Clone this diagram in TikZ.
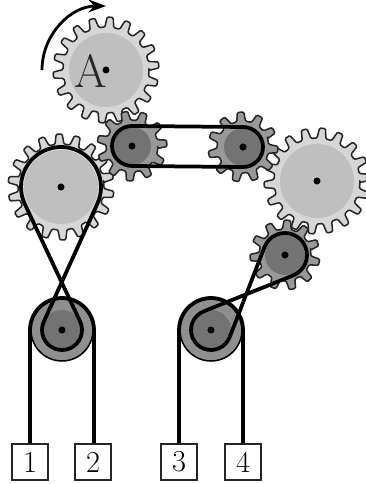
\documentclass[tikz,border=0pt]{standalone}
\usepackage{xcolor}
\usetikzlibrary{arrows.meta,calc}
\definecolor{gearLight}{gray}{0.84}
\definecolor{gearLightCore}{gray}{0.75}
\definecolor{gearDark}{gray}{0.60}
\definecolor{gearDarkCore}{gray}{0.45}
\tikzset{
  toothed/.style={draw=black!85, line width=1.3pt, rounded corners=1pt},
  belt/.style={draw=black, line width=3.2pt, line join=round},
  pivot/.style={circle, fill=black, inner sep=0pt, minimum size=6pt},
  weightbox/.style={draw=black!85, fill=white, line width=1.2pt, minimum size=31pt, inner sep=0pt, font=\fontsize{26}{26}\selectfont},
}
% name, teeth, tip radius, root radius, phase, rim colour, core radius, core colour
\newcommand{\gearwheel}[8]{
  \begin{scope}[shift={(#1)}]
    \pgfmathsetmacro{\pitch}{360/#2}
    \draw[toothed, fill=#6] (#5-0.3*\pitch:#4)
      \foreach \k [evaluate=\k as \ang using #5+\k*\pitch] in {0,...,\numexpr#2-1\relax} {
        -- (\ang-0.3*\pitch:#4) -- (\ang-0.16*\pitch:#3) -- (\ang+0.16*\pitch:#3) -- (\ang+0.3*\pitch:#4)
      } -- cycle;
    \fill[#8] (0,0) circle[radius=#7];
  \end{scope}
}
\begin{document}
\begin{tikzpicture}[x=0.03cm, y=0.03cm, >=Stealth]
\useasboundingbox (0,0) rectangle (365,484);
\coordinate (wheelA) at (106,414);
\coordinate (wheelB) at (61,297);
\coordinate (wheelC) at (132,338);
\coordinate (wheelD) at (243,337);
\coordinate (wheelE) at (317,303);
\coordinate (wheelF) at (285,229);
\coordinate (pulleyL) at (62,154);
\coordinate (pulleyR) at (211,154);

% large wheels
\gearwheel{wheelA}{18}{53}{43}{5.5}{gearLight}{37}{gearLightCore}
\gearwheel{wheelB}{18}{53}{43}{12}{gearLight}{37}{gearLightCore}
\gearwheel{wheelE}{18}{53}{43}{4}{gearLight}{37}{gearLightCore}
% small wheels
\gearwheel{wheelC}{11}{35}{26}{4.4}{gearDark}{19}{gearDarkCore}
\gearwheel{wheelD}{11}{35}{26}{28.6}{gearDark}{19}{gearDarkCore}
\gearwheel{wheelF}{11}{35}{26}{20.6}{gearDark}{20}{gearDarkCore}

% pulleys
\foreach \p in {pulleyL,pulleyR} {
  \draw[draw=black, line width=1.3pt, fill=gearDark!110] (\p) circle[radius=31];
  \fill[gearDarkCore] (\p) circle[radius=20];
}

% weights and their ropes
\node[weightbox] (w1) at (30,22) {1};
\node[weightbox] (w2) at (93,22) {2};
\node[weightbox] (w3) at (179,22) {3};
\node[weightbox] (w4) at (243,22) {4};
\draw[belt] (w1.north) -- (30,154) arc[start angle=180, end angle=0, radius=32] -- (94,41);
\draw[belt] (w3.north) -- (179,154) arc[start angle=180, end angle=0, radius=32] -- (w4.north);

% belts
\draw[belt] ($(wheelC)+(0,20)$) -- ($(wheelD)+(0,20)$) arc[start angle=90, end angle=-90, radius=20]
  -- ($(wheelC)+(0,-20)$) arc[start angle=270, end angle=90, radius=20] -- cycle;
\draw[belt] ($(wheelB)+(-24.9:40)$) arc[start angle=-24.9, end angle=204.9, radius=40]
  -- ($(pulleyL)+(24.9:20)$) arc[start angle=24.9, end angle=-204.9, radius=20] -- cycle;
\draw[belt] ($(wheelF)+(-68.2:22)$) arc[start angle=-68.2, end angle=159, radius=22]
  -- ($(pulleyR)+(-21:20)$) arc[start angle=-21, end angle=-248.2, radius=20] -- cycle;

% pivots
\foreach \p in {wheelA,wheelB,wheelC,wheelD,wheelE,wheelF,pulleyL,pulleyR}
  \node[pivot] at (\p) {};

\node[font=\fontsize{40}{40}\selectfont, text=black!85] (labelA) at (91,413) {A};
\draw[-{Stealth[length=15pt, width=11pt, inset=5pt]}, line width=2.4pt] ($(wheelA)+(180:64)$) arc[start angle=180, end angle=90, radius=64];
\end{tikzpicture}
\end{document}
